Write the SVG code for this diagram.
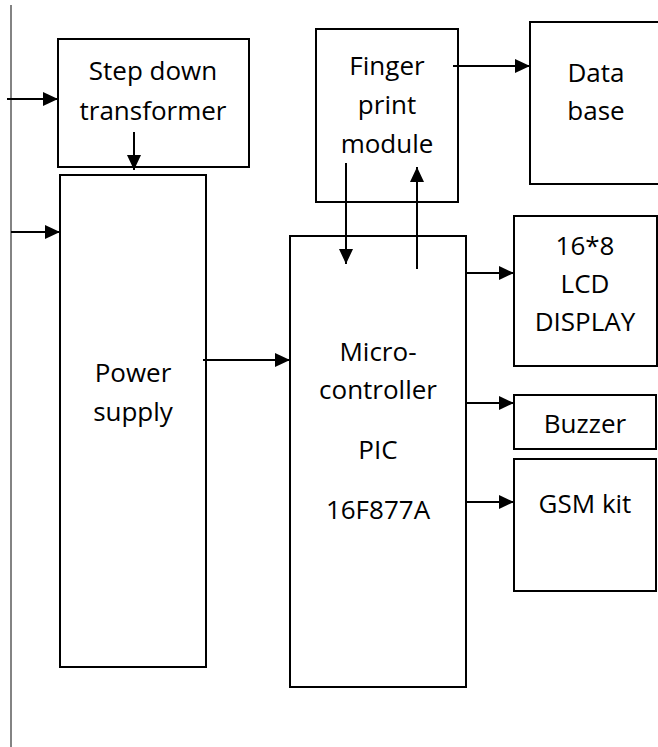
<svg xmlns="http://www.w3.org/2000/svg" width="658" height="747" viewBox="0 0 658 747">
<style>
.box{fill:#fff;stroke:#000;stroke-width:2}
.t{font-family:"Open Sans","Liberation Sans",sans-serif;font-size:26px;fill:#000;text-anchor:middle}
.c{stroke:#000;stroke-width:2;fill:none;marker-end:url(#ah)}
</style>
<defs>
<marker id="ah" markerUnits="userSpaceOnUse" markerWidth="16" markerHeight="16" refX="15" refY="7" orient="auto">
<path d="M0,0 L15,7 L0,14 z" fill="#000"/>
</marker>
</defs>
<rect width="658" height="747" fill="#fff"/>
<line x1="11" y1="5" x2="11" y2="747" stroke="#5a5a5a" stroke-width="1.5"/>
<g id="stepdown">
<rect class="box" x="58" y="39" width="191" height="128"/>
<text class="t" x="153" y="80">Step down</text>
<text class="t" x="153" y="120">transformer</text>
</g>
<g id="power">
<rect class="box" x="60" y="175" width="146" height="492"/>
<text class="t" x="133" y="382">Power</text>
<text class="t" x="133" y="421">supply</text>
</g>
<g id="fingerprint">
<rect class="box" x="316" y="29" width="142" height="173"/>
<text class="t" x="387" y="75">Finger</text>
<text class="t" x="387" y="114">print</text>
<text class="t" x="387" y="153">module</text>
</g>
<g id="database">
<rect class="box" x="530" y="22" width="140" height="162"/>
<text class="t" x="596" y="82">Data</text>
<text class="t" x="596" y="120">base</text>
</g>
<g id="mcu">
<rect class="box" x="290" y="236" width="176" height="451"/>
<text class="t" x="378" y="361">Micro-</text>
<text class="t" x="378" y="399">controller</text>
<text class="t" x="378" y="459">PIC</text>
<text class="t" x="378" y="519">16F877A</text>
</g>
<g id="lcd">
<rect class="box" x="514" y="216" width="143" height="150"/>
<text class="t" x="585" y="255">16*8</text>
<text class="t" x="585" y="293">LCD</text>
<text class="t" x="585" y="331">DISPLAY</text>
</g>
<g id="buzzer">
<rect class="box" x="514" y="395" width="142" height="54"/>
<text class="t" x="585" y="433">Buzzer</text>
</g>
<g id="gsm">
<rect class="box" x="514" y="459" width="142" height="132"/>
<text class="t" x="585" y="513">GSM kit</text>
</g>
<g id="connectors">
<line class="c" x1="7" y1="99" x2="58" y2="99"/>
<line class="c" x1="134" y1="132" x2="134" y2="170"/>
<line class="c" x1="11" y1="232" x2="60" y2="232"/>
<line class="c" x1="203" y1="360" x2="290" y2="360"/>
<line class="c" x1="453" y1="66" x2="530" y2="66"/>
<line class="c" x1="346" y1="163" x2="346" y2="264"/>
<line class="c" x1="417" y1="269" x2="417" y2="167"/>
<line class="c" x1="466" y1="273" x2="514" y2="273"/>
<line class="c" x1="466" y1="403" x2="514" y2="403"/>
<line class="c" x1="466" y1="502" x2="514" y2="502"/>
</g>
</svg>
